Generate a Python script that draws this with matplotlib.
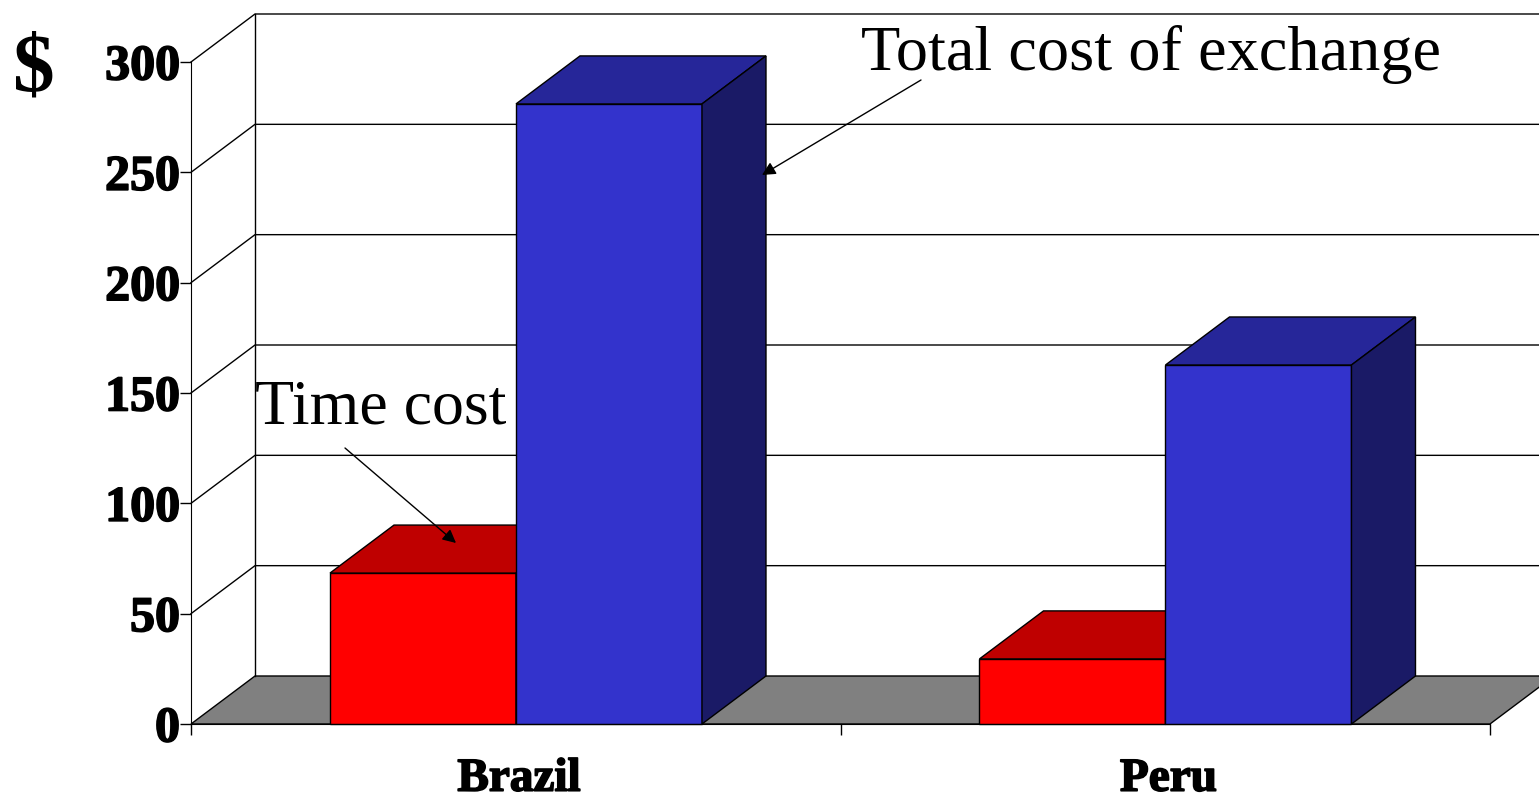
import matplotlib
matplotlib.use('Agg')
import matplotlib.pyplot as plt
import matplotlib.patheffects as pe
from matplotlib.patches import Polygon

plt.rcParams['font.family'] = ['Liberation Serif', 'DejaVu Serif']

countries = ['Brazil', 'Peru']
time_cost = [68.4, 29.5]
total_cost = [281, 162.7]
y_ticks = [0, 50, 100, 150, 200, 250, 300]

W, H = 1539, 794
px_x = 1299 / 2      # pixels per category
px_y = 662 / 300     # pixels per dollar
depth_x = 64 / px_x
depth_y = 48 / px_y
bar_w = 186 / px_x
bar_start = 0.214

# the bold labels in the original are heavier than the font's own bold
heavy = [pe.withStroke(linewidth=1.2, foreground='black')]


def box(ax, x, w, top, front, upper, side):
    ax.add_patch(Polygon([(x, 0), (x+w, 0), (x+w, top), (x, top)], fc=front, ec='black', lw=1, clip_on=False))
    ax.add_patch(Polygon([(x, top), (x+w, top), (x+w+depth_x, top+depth_y), (x+depth_x, top+depth_y)], fc=upper, ec='black', lw=1, clip_on=False))
    ax.add_patch(Polygon([(x+w, 0), (x+w+depth_x, depth_y), (x+w+depth_x, top+depth_y), (x+w, top)], fc=side, ec='black', lw=1, clip_on=False))


fig = plt.figure(figsize=(W/100, H/100), dpi=100)
ax = fig.add_axes([191/W, (H-724)/H, 1299/W, 662/H])
ax.set_xlim(0, 2)
ax.set_ylim(0, 300)

# floor and walls
ax.add_patch(Polygon([(0, 0), (2, 0), (2+depth_x, depth_y), (depth_x, depth_y)], fc='#808080', ec='black', lw=1, clip_on=False, zorder=0.4))
ax.plot([depth_x, depth_x], [depth_y, 300+depth_y], color='black', lw=1, clip_on=False, zorder=0.5)
for t in y_ticks[1:]:
    ax.plot([0, depth_x, 2.2], [t, t+depth_y, t+depth_y], color='black', lw=1, clip_on=False, zorder=0.5)

for i in range(len(countries)):
    x = i + bar_start
    box(ax, x, bar_w, time_cost[i], '#FF0000', '#BF0000', '#800000')
    box(ax, x+bar_w, bar_w, total_cost[i], '#3333CC', '#262699', '#1A1A66')

ax.spines['top'].set_visible(False)
ax.spines['right'].set_visible(False)
ax.patch.set_visible(False)
ax.set_yticks(y_ticks)
ax.set_xticks([0, 1, 2])
ax.set_xticklabels([])
ax.set_xticks([0.505, 1.505], countries, minor=True)
ax.tick_params(axis='x', which='minor', length=0, pad=25, labelsize=34)
ax.tick_params(axis='x', which='major', length=8, width=1, direction='out')
ax.tick_params(axis='y', length=8, width=1, pad=0, labelsize=36)
for lab in ax.get_yticklabels() + ax.get_xticklabels(minor=True):
    lab.set_fontweight('bold')
    lab.set_path_effects(heavy)

fig.text(33.5/W, 1-71/H, '$', fontsize=60, fontweight='bold', ha='center', va='center')
fig.text(861/W, 1-55/H, 'Total cost of exchange', fontsize=46.3, ha='left', va='center')
fig.text(255/W, 1-409/H, 'Time cost', fontsize=46, ha='left', va='center')

arrow = dict(arrowstyle='-|>', color='black', lw=1, mutation_scale=20, shrinkA=0, shrinkB=0)
ax.annotate('', xy=(762/W, 1-175/H), xytext=(921/W, 1-80/H), xycoords='figure fraction', textcoords='figure fraction', arrowprops=arrow)
ax.annotate('', xy=(456/W, 1-543/H), xytext=(345/W, 1-448/H), xycoords='figure fraction', textcoords='figure fraction', arrowprops=arrow)

fig.savefig('out.png', dpi=100)
